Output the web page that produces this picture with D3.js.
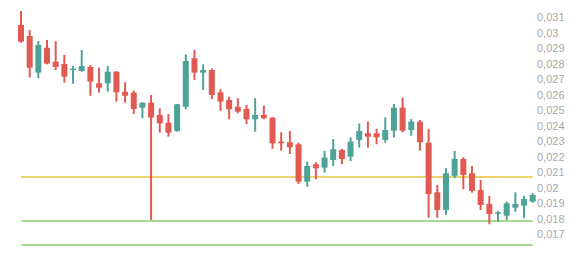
<!DOCTYPE html>
<html>
<head>
<meta charset="utf-8">
<script src="https://cdn.jsdelivr.net/npm/d3@7"></script>
<style>
  body { margin: 0; background: #fff; }
  svg { display: block; }
</style>
</head>
<body>
<div id="container"></div>
<script>
/* DATA */
const opens  = [0.03048,0.02977,0.02741,0.02902,0.02812,0.02797,0.0276,0.02752,0.02778,0.02672,
                0.02672,0.02747,0.02618,0.02612,0.02515,0.02547,0.02468,0.02418,0.02365,0.02521,
                0.02834,0.02741,0.02758,0.02614,0.02565,0.02521,0.02507,0.0244,0.02468,0.02451,
                0.02296,0.02292,0.02279,0.02038,0.0215,0.02128,0.02178,0.02242,0.02199,0.02307,
                0.0235,0.0235,0.02307,0.02367,0.02515,0.02371,0.02425,0.02289,0.01969,0.01855,
                0.02076,0.02184,0.02092,0.01984,0.01894,0.01831,0.01818,0.0187,0.01883,0.01909];
const closes = [0.02941,0.02773,0.02919,0.02799,0.02778,0.02715,0.02767,0.02784,0.02683,0.02644,
                0.02747,0.02614,0.02592,0.02507,0.02547,0.02451,0.02414,0.02354,0.02537,0.02816,
                0.02741,0.02758,0.02597,0.02554,0.02505,0.02489,0.0244,0.02468,0.02447,0.02285,
                0.02285,0.0226,0.02038,0.02139,0.02124,0.02193,0.02247,0.02184,0.02296,0.02365,
                0.02328,0.02324,0.02371,0.02515,0.02367,0.02425,0.02292,0.01958,0.01855,0.02092,
                0.02184,0.02081,0.01978,0.01887,0.01829,0.0184,0.01898,0.01894,0.01926,0.01952];
const highs  = [0.03139,0.03016,0.02945,0.02952,0.02945,0.02855,0.02784,0.02887,0.0279,0.02773,
                0.02784,0.02752,0.02679,0.02625,0.0255,0.02597,0.02511,0.02474,0.02539,0.02859,
                0.02887,0.02795,0.02769,0.02634,0.02586,0.02576,0.02532,0.02576,0.02528,0.02453,
                0.02356,0.02365,0.02289,0.02167,0.02163,0.02236,0.02313,0.02249,0.02324,0.02412,
                0.02425,0.02378,0.02453,0.02539,0.0258,0.02442,0.02436,0.02378,0.02016,0.02124,
                0.02236,0.02195,0.02139,0.02049,0.01945,0.01849,0.01909,0.01969,0.01947,0.01963];
const lows   = [0.02934,0.02709,0.02705,0.02795,0.02758,0.02676,0.0267,0.02747,0.02592,0.02612,
                0.02618,0.02554,0.02547,0.02474,0.02447,0.01791,0.02354,0.02328,0.0236,0.02505,
                0.02694,0.02629,0.02571,0.02494,0.0244,0.02479,0.02408,0.0236,0.0244,0.02249,
                0.02238,0.02216,0.02023,0.02005,0.02053,0.02096,0.02139,0.0215,0.02171,0.02257,
                0.02257,0.02279,0.02289,0.02324,0.02356,0.02334,0.02238,0.01805,0.01805,0.01823,
                0.0206,0.01989,0.01967,0.01855,0.01763,0.0178,0.01791,0.01844,0.01802,0.01902];

const levels = [0.02066, 0.01784, 0.01627];
const levelColors = ["#e8c33c", "#86cf6a", "#86cf6a"];
const yTicks = [0.031,0.03,0.029,0.028,0.027,0.026,0.025,0.024,0.023,0.022,0.021,0.02,0.019,0.018,0.017];

/* CONSTANTS */
const width = 584, height = 258;
const up = "#4ea399", down = "#e05a52";

const candles = opens.map((o, i) => ({ i, o, c: closes[i], h: highs[i], l: lows[i] }));

const xScale = d3.scalePoint()
  .domain(candles.map(d => d.i))
  .range([21, 532.7]);

const yScale = d3.scaleLinear()
  .domain([0.017, 0.031])
  .range([234, 17]);

const svg = d3.select("#container")
  .append("svg")
  .attr("width", width)
  .attr("height", height);

// horizontal levels
svg.selectAll(".level")
  .data(levels)
  .join("line")
  .attr("class", "level")
  .attr("x1", xScale.range()[0])
  .attr("x2", xScale.range()[1])
  .attr("y1", d => Math.round(yScale(d)))
  .attr("y2", d => Math.round(yScale(d)))
  .style("stroke", (d, i) => levelColors[i])
  .style("stroke-width", 1.6);

// right axis labels
const locale = d3.formatLocale({ decimal: ",", thousands: ".", grouping: [3], currency: ["", ""] });
const fmt = locale.format("~g");
const yAxis = d3.axisRight(yScale)
  .tickValues(yTicks)
  .tickFormat(fmt)
  .tickSize(0)
  .tickPadding(0);
const ax = svg.append("g")
  .attr("transform", "translate(537,0)")
  .call(yAxis);
ax.select(".domain").remove();
ax.selectAll("text")
  .attr("fill", "#a8a8a8")
  .style("font-family", "Arial, 'Liberation Sans', sans-serif")
  .style("font-size", "11px");

// candles
const g = svg.selectAll(".candle")
  .data(candles)
  .join("g")
  .attr("class", "candle");

g.append("line")
  .attr("x1", d => xScale(d.i))
  .attr("x2", d => xScale(d.i))
  .attr("y1", d => yScale(d.h))
  .attr("y2", d => yScale(d.l))
  .attr("stroke", d => d.c >= d.o ? up : down)
  .attr("stroke-width", 2);

g.append("rect")
  .attr("x", d => xScale(d.i) - 3)
  .attr("width", 6)
  .attr("y", d => yScale(Math.max(d.o, d.c)))
  .attr("height", d => Math.max(1.5, Math.abs(yScale(d.o) - yScale(d.c))))
  .attr("fill", d => d.c >= d.o ? up : down);
</script>
</body>
</html>
